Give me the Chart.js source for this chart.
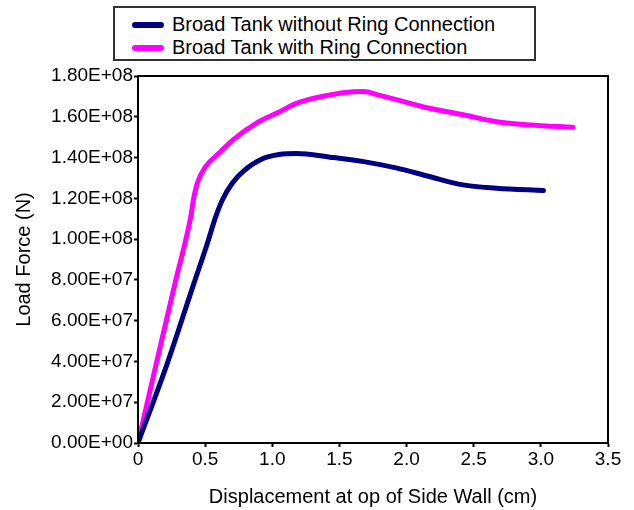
<!DOCTYPE html>
<html>
<head>
<meta charset="utf-8">
<script src="https://cdn.jsdelivr.net/npm/chart.js@4"></script>
<style>
  body { margin: 0; background: #fff; }
  #wrap { position: relative; width: 634px; height: 510px; }
  #legend {
    position: absolute; left: 113px; top: 6px; width: 419px; height: 51px;
    border: 2px solid #333; background: #fff;
    font-family: "Liberation Sans", Arial, sans-serif; font-size: 20px; color: #000;
  }
  #legend .item { position: absolute; left: 17px; height: 22px; line-height: 22px; white-space: nowrap; }
  #legend .swatch { display: inline-block; width: 32px; height: 6px; border-radius: 3px; vertical-align: middle; margin-right: 8px; position: relative; top: -1px; }
</style>
</head>
<body>
<div id="wrap">
  <canvas id="loadChart"></canvas>
  <div id="legend"></div>
</div>
<script>
// displacement (cm) and load force (N)
const xWithout = [0, 0.219, 0.417, 0.517, 0.579, 0.629, 0.703, 0.79, 0.931, 1.05, 1.18, 1.43, 1.68, 1.93, 2.17, 2.42, 2.67, 3.02];
const yWithout = [0, 39.2e6, 78.4e6, 98e6, 111e6, 119.3e6, 127.5e6, 133.6e6, 139.5e6, 141.5e6, 142e6, 140.2e6, 138e6, 134.8e6, 130.7e6, 126.6e6, 125e6, 123.8e6];

const xWith = [0, 0.137, 0.276, 0.393, 0.415, 0.442, 0.504, 0.604, 0.708, 0.882, 1.056, 1.18, 1.43, 1.6, 1.68, 1.8, 1.93, 2.17, 2.42, 2.67, 2.92, 3.24];
const yWith = [0, 39.2e6, 78.4e6, 111e6, 120e6, 127.5e6, 135.6e6, 142.2e6, 148.7e6, 156.9e6, 162.5e6, 166.6e6, 170.7e6, 172.3e6, 172.4e6, 170.5e6, 168.3e6, 164.2e6, 161e6, 157.6e6, 156e6, 154.9e6];

const seriesLabels = ['Broad Tank without Ring Connection', 'Broad Tank with Ring Connection'];
const seriesColors = ['#000080', '#ff00ff'];

const xTicks = [0, 0.5, 1, 1.5, 2, 2.5, 3, 3.5];
const yTicks = [0, 2e7, 4e7, 6e7, 8e7, 1e8, 1.2e8, 1.4e8, 1.6e8, 1.8e8];

const FONT = "'Liberation Sans', Arial, sans-serif";

function toPoints(xs, ys) {
  return xs.map((x, i) => ({ x: x, y: ys[i] }));
}

function sciLabel(v) {
  const parts = Number(v).toExponential(2).split('e');
  const e = parseInt(parts[1], 10);
  return parts[0] + 'E' + (e < 0 ? '-' : '+') + String(Math.abs(e)).padStart(2, '0');
}

// box around the plot area (top and right sides)
const frame = {
  id: 'frame',
  afterDraw(chart) {
    const { ctx, chartArea: a } = chart;
    ctx.save();
    ctx.strokeStyle = '#000';
    ctx.lineWidth = 2;
    ctx.strokeRect(a.left, a.top, a.right - a.left, a.bottom - a.top);
    ctx.restore();
  }
};

const chart = new Chart(document.getElementById('loadChart'), {
  type: 'line',
  plugins: [frame],
  data: {
    datasets: [
      {
        label: seriesLabels[0],
        data: toPoints(xWithout, yWithout),
        borderColor: seriesColors[0],
        backgroundColor: seriesColors[0],
        borderWidth: 5,
        pointRadius: 0,
        cubicInterpolationMode: 'monotone',
        borderCapStyle: 'round',
        borderJoinStyle: 'round'
      },
      {
        label: seriesLabels[1],
        data: toPoints(xWith, yWith),
        borderColor: seriesColors[1],
        backgroundColor: seriesColors[1],
        borderWidth: 5,
        pointRadius: 0,
        cubicInterpolationMode: 'monotone',
        borderCapStyle: 'round',
        borderJoinStyle: 'round'
      }
    ]
  },
  options: {
    responsive: true,
    maintainAspectRatio: false,
    animation: false,
    layout: { padding: { top: 76, right: 26, left: 0, bottom: 0 } },
    plugins: {
      legend: { display: false },
      tooltip: { enabled: false }
    },
    scales: {
      x: {
        type: 'linear',
        min: 0,
        max: 3.5,
        afterBuildTicks: (s) => { s.ticks = xTicks.map(v => ({ value: v })); },
        afterFit: (s) => { s.height = 67; },
        grid: { drawOnChartArea: false, drawTicks: true, tickLength: 4, tickWidth: 2, color: '#000' },
        border: { color: '#000', width: 2 },
        ticks: { color: '#000', padding: 1, font: { family: FONT, size: 19 }, maxRotation: 0 },
        title: { display: true, text: 'Displacement at op of Side Wall (cm)', color: '#000', font: { family: FONT, size: 20 }, padding: { top: 0, bottom: 1 } }
      },
      y: {
        type: 'linear',
        min: 0,
        max: 1.8e8,
        afterBuildTicks: (s) => { s.ticks = yTicks.map(v => ({ value: v })); },
        afterFit: (s) => { s.width = 138; },
        grid: { drawOnChartArea: false, drawTicks: true, tickLength: 4, tickWidth: 2, color: '#000' },
        border: { color: '#000', width: 2 },
        ticks: { color: '#000', padding: 1, font: { family: FONT, size: 19 }, callback: (v) => sciLabel(v) },
        title: { display: true, text: 'Load Force (N)', color: '#000', font: { family: FONT, size: 20 }, padding: { top: 12, bottom: 0 } }
      }
    }
  }
});

// legend box drawn from the dataset labels/colours
const legendEl = document.getElementById('legend');
chart.data.datasets.forEach((ds, i) => {
  const item = document.createElement('div');
  item.className = 'item';
  item.style.top = (5 + i * 23) + 'px';
  const sw = document.createElement('span');
  sw.className = 'swatch';
  sw.style.background = ds.borderColor;
  item.appendChild(sw);
  item.appendChild(document.createTextNode(ds.label));
  legendEl.appendChild(item);
});
</script>
</body>
</html>
